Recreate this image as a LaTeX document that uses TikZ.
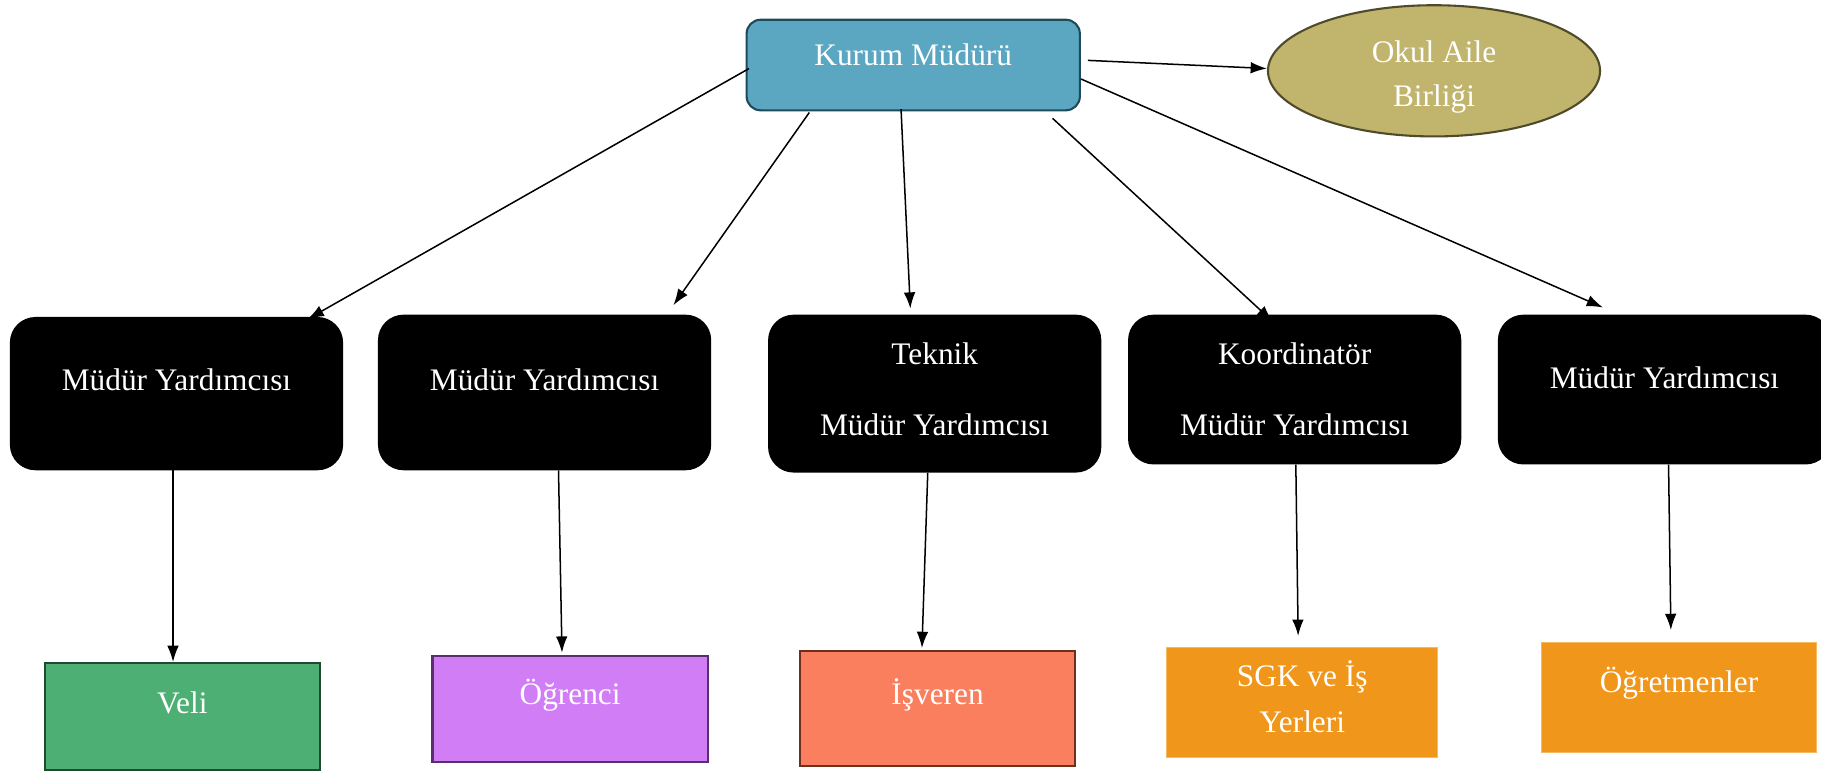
\documentclass[tikz,border=0pt]{standalone}
\usepackage{fontspec}
\setmainfont{Liberation Serif}
\usetikzlibrary{arrows.meta,shapes.geometric}

\definecolor{kurumfill}{HTML}{5BA6C1}
\definecolor{kurumline}{HTML}{1F4A5A}
\definecolor{ailefill}{HTML}{C1B46C}
\definecolor{aileline}{HTML}{4E4A2A}
\definecolor{velifill}{HTML}{4DAF74}
\definecolor{veliline}{HTML}{1F4A2E}
\definecolor{ogrfill}{HTML}{D17DF6}
\definecolor{ogrline}{HTML}{5A2F6E}
\definecolor{isvfill}{HTML}{FA7F5E}
\definecolor{isvline}{HTML}{6E2E20}
\definecolor{turuncu}{HTML}{F0961A}
\definecolor{turunculine}{HTML}{F6B860}

\begin{document}
\begin{tikzpicture}[x=1pt, y=-1pt,
  font=\fontsize{27}{32}\selectfont,
  txt/.style = {text=white, align=center, inner sep=0pt},
  head/.style = {draw=kurumline, fill=kurumfill, line width=1.8pt, rounded corners=12pt, minimum width=287pt, minimum height=78pt},
  aile/.style = {draw=aileline, fill=ailefill, line width=1.8pt, ellipse, minimum width=286pt, minimum height=113pt},
  dark/.style = {fill=black, rounded corners=22pt, minimum width=287pt},
  leaf/.style = {line width=1.8pt, minimum width=237pt},
  arr/.style = {-{Latex[length=14pt,width=10pt]}, line width=1.3pt}]
  \useasboundingbox (0,0) rectangle (1568.3,664);

  % top
  \node[head, label={[txt,yshift=9pt]center:Kurum Müdürü}] (kurum) at (786.5,56) {};
  \node[aile, label={[txt,yshift=-5pt]center:{Okul Aile\\[6pt]Birliği}}] (aile) at (1235,61) {};

  % middle row
  \node[dark, minimum height=132pt, label={[txt,yshift=12pt]center:Müdür Yardımcısı}] (y1) at (152,339) {};
  \node[dark, minimum height=134pt, label={[txt,yshift=11pt]center:Müdür Yardımcısı}] (y2) at (469,338) {};
  \node[dark, minimum height=136pt, label={[txt,yshift=3.5pt]center:{Teknik\\[29pt]Müdür Yardımcısı}}] (y3) at (805,339) {};
  \node[dark, minimum height=129pt, label={[txt]center:{Koordinatör\\[29pt]Müdür Yardımcısı}}] (y4) at (1115,335.5) {};
  \node[dark, minimum height=129pt, label={[txt,yshift=10pt]center:Müdür Yardımcısı}] (y5) at (1433.5,335.5) {};

  % bottom row
  \node[leaf, draw=veliline, fill=velifill, minimum height=92pt, label={[txt,yshift=12pt]center:Veli}] (veli) at (157,617) {};
  \node[leaf, draw=ogrline, fill=ogrfill, minimum height=91pt, label={[txt,yshift=12pt]center:Öğrenci}] (ogr) at (491,610.5) {};
  \node[leaf, draw=isvline, fill=isvfill, minimum height=99pt, label={[txt,yshift=12pt]center:İşveren}] (isv) at (807.5,610.5) {};
  \node[leaf, draw=turunculine, line width=0.8pt, fill=turuncu, minimum width=233pt, minimum height=94pt, label={[txt,yshift=5pt]center:{SGK ve İş\\[8pt]Yerleri}}] (sgk) at (1121.5,605) {};
  \node[leaf, draw=turunculine, line width=0.8pt, fill=turuncu, minimum height=95pt, label={[txt,yshift=12pt]center:Öğretmenler}] (ogt) at (1446,600.5) {};

  % connectors
  \draw[arr] ([xshift=6pt,yshift=4pt]kurum.east) -- ([yshift=2pt]aile.west);
  \draw[arr] ([xshift=3pt,yshift=-3pt]kurum.west) -- ([xshift=113pt,yshift=-2pt]y1.north);
  \draw[arr] ([xshift=-89.5pt,yshift=-1pt]kurum.south) -- ([xshift=111pt,yshift=8pt]y2.north);
  \draw[arr] ([xshift=-10.5pt,yshift=2pt]kurum.south) -- ([xshift=-21pt,yshift=5pt]y3.north);
  \draw[arr] ([xshift=120pt,yshift=-6pt]kurum.south) -- ([xshift=-19pt,yshift=-6pt]y4.north);
  \draw[arr] ([yshift=-12pt]kurum.east) -- ([xshift=-53pt,yshift=6pt]y5.north);
  \draw[arr] ([xshift=-3pt]y1.south) -- ([xshift=-8pt]veli.north);
  \draw[arr] ([xshift=12pt]y2.south) -- ([xshift=-7pt,yshift=2pt]ogr.north);
  \draw[arr] ([xshift=-6pt]y3.south) -- ([xshift=-13.5pt,yshift=2pt]isv.north);
  \draw[arr] ([xshift=1pt]y4.south) -- ([xshift=-3.5pt,yshift=10pt]sgk.north);
  \draw[arr] ([xshift=3.5pt]y5.south) -- ([xshift=-7pt,yshift=10pt]ogt.north);
\end{tikzpicture}
\end{document}
